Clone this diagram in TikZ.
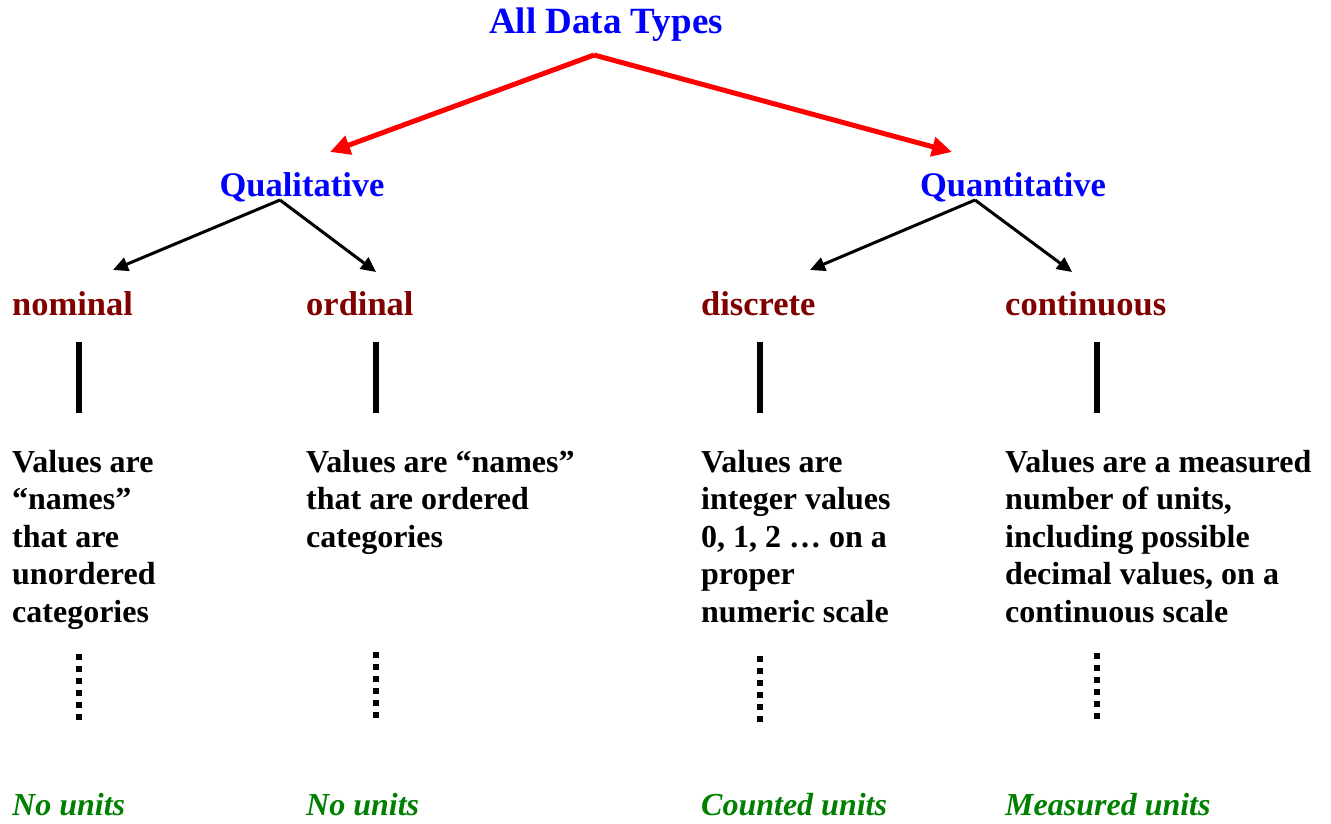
\documentclass[tikz,border=0pt]{standalone}
\usepackage{fontspec}
\setmainfont{Liberation Serif}
\usetikzlibrary{arrows.meta}
\definecolor{titleblue}{RGB}{0,0,255}
\definecolor{catred}{RGB}{128,0,0}
\definecolor{unitgreen}{RGB}{0,128,0}
\definecolor{linkred}{RGB}{255,0,0}
\begin{document}
\begin{tikzpicture}[x=1pt,y=-1pt,
  titletext/.style={text=titleblue, font=\fontsize{37}{42}\selectfont\bfseries, inner sep=0pt, anchor=base},
  branchtext/.style={text=titleblue, font=\fontsize{34.5}{40}\selectfont\bfseries, inner sep=0pt, anchor=base},
  kindtext/.style={text=catred, font=\fontsize{34.5}{40}\selectfont\bfseries, inner sep=0pt, anchor=base west},
  % multi-line blocks: the base anchor sits on the last line's baseline
  desctext/.style={font=\fontsize{32}{37.5}\selectfont\bfseries, align=left, inner sep=0pt, anchor=base west},
  unittext/.style={text=unitgreen, font=\fontsize{32}{37.5}\selectfont\bfseries\itshape, inner sep=0pt, anchor=base west},
  bigarrow/.style={draw=linkred, line width=5pt, -{Triangle[length=20pt,width=19pt]}},
  smallarrow/.style={draw=black, line width=3pt, -{Triangle[length=15pt,width=14pt]}},
  stemline/.style={line width=6pt},
  dotline/.style={line width=6pt, dash pattern=on 6pt off 6pt}]
\useasboundingbox (0,0) rectangle (1331,823);

% top level
\node[titletext] (all) at (606,33) {All Data Types};
\coordinate (allfork) at (594,55);
\coordinate (qualtip) at (330,152);
\coordinate (quanttip) at (952,152);
\draw[bigarrow] (allfork) -- (qualtip);
\draw[bigarrow] (allfork) -- (quanttip);

% second level
\node[branchtext] (qual) at (302,196) {Qualitative};
\node[branchtext] (quant) at (1013,196) {Quantitative};
\coordinate (qualfork) at (280,200);
\coordinate (quantfork) at (975,200);
\coordinate (nomtip) at (113,270);
\coordinate (ordtip) at (376,272);
\coordinate (distip) at (810,270);
\coordinate (contip) at (1072,272);
\draw[smallarrow] (qualfork) -- (nomtip);
\draw[smallarrow] (qualfork) -- (ordtip);
\draw[smallarrow] (quantfork) -- (distip);
\draw[smallarrow] (quantfork) -- (contip);

% data kinds
\node[kindtext] (nom) at (12,315) {nominal};
\node[kindtext] (ord) at (306,315) {ordinal};
\node[kindtext] (dis) at (701,315) {discrete};
\node[kindtext] (con) at (1005,315) {continuous};

% stems below the kinds
\foreach \n/\x in {nom/79, ord/376, dis/760, con/1097}{
  \coordinate (\n stemtop) at (\x,342);
  \coordinate (\n stembot) at (\x,413);
  \draw[stemline] (\n stemtop) -- (\n stembot);
}

% descriptions (first baseline at 472, 37.5 per line)
\node[desctext] (nomdesc) at (12,622) {Values are\\“names”\\that are\\unordered\\categories};
\node[desctext] (orddesc) at (306,547) {Values are “names”\\that are ordered\\categories};
\node[desctext] (disdesc) at (701,622) {Values are\\integer values\\0, 1, 2 … on a\\proper\\numeric scale};
\node[desctext] (condesc) at (1005,622) {Values are a measured\\number of units,\\including possible\\decimal values, on a\\continuous scale};

% dotted leaders
\foreach \n/\x/\y in {nom/79/654, ord/376/652, dis/760/656, con/1097/653}{
  \coordinate (\n dottop) at (\x,\y);
  \coordinate (\n dotbot) at (\x,\y+66);
  \draw[dotline] (\n dottop) -- (\n dotbot);
}

% units
\node[unittext] (nomunit) at (12,815) {No units};
\node[unittext] (ordunit) at (306,815) {No units};
\node[unittext] (disunit) at (701,815) {Counted units};
\node[unittext] (conunit) at (1005,815) {Measured units};
\end{tikzpicture}
\end{document}
